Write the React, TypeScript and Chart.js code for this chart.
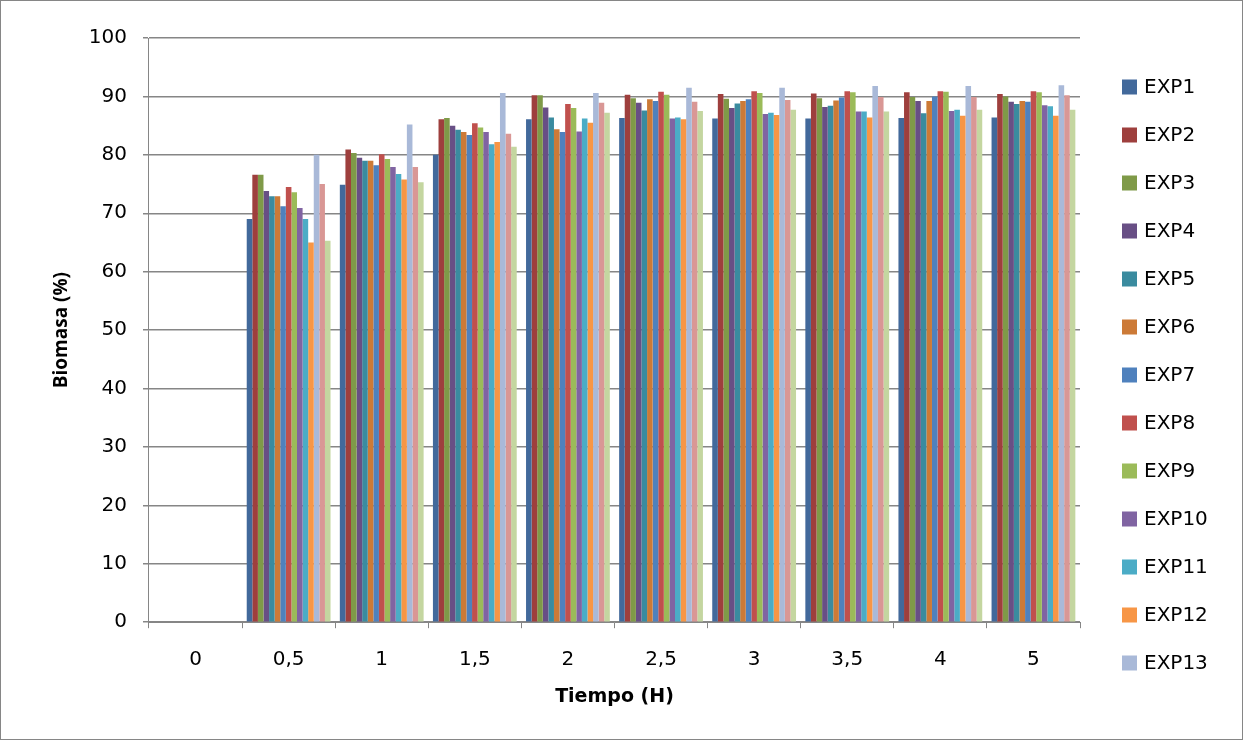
import React, { useEffect, useRef } from "react";
import { Chart, registerables } from "chart.js";

Chart.register(...registerables);

const categories = ["0", "0,5", "1", "1,5", "2", "2,5", "3", "3,5", "4", "5"];

const seriesNames = [
  "EXP1", "EXP2", "EXP3", "EXP4", "EXP5", "EXP6", "EXP7", "EXP8",
  "EXP9", "EXP10", "EXP11", "EXP12", "EXP13", "EXP14", "EXP15",
];

const exp1 = [0, 69.0, 74.9, 80.0, 86.1, 86.3, 86.2, 86.2, 86.3, 86.4];
const exp2 = [0, 76.6, 80.9, 86.1, 90.2, 90.3, 90.4, 90.5, 90.7, 90.4];
const exp3 = [0, 76.6, 80.3, 86.3, 90.2, 89.7, 89.6, 89.7, 89.9, 90.0];
const exp4 = [0, 73.8, 79.5, 85.0, 88.1, 88.9, 88.0, 88.2, 89.2, 89.1];
const exp5 = [0, 72.9, 79.0, 84.3, 86.4, 87.6, 88.8, 88.4, 87.1, 88.7];
const exp6 = [0, 72.9, 79.0, 83.9, 84.4, 89.5, 89.2, 89.3, 89.2, 89.2];
const exp7 = [0, 71.2, 78.2, 83.4, 83.9, 89.2, 89.5, 89.8, 90.0, 89.1];
const exp8 = [0, 74.5, 80.1, 85.4, 88.7, 90.8, 90.9, 90.9, 90.9, 90.9];
const exp9 = [0, 73.6, 79.3, 84.7, 88.0, 90.3, 90.6, 90.7, 90.8, 90.7];
const exp10 = [0, 70.9, 77.9, 83.9, 84.0, 86.2, 87.0, 87.4, 87.5, 88.5];
const exp11 = [0, 69.0, 76.7, 81.8, 86.2, 86.4, 87.2, 87.4, 87.7, 88.3];
const exp12 = [0, 65.0, 75.8, 82.2, 85.5, 86.1, 86.8, 86.4, 86.7, 86.7];
const exp13 = [0, 80.0, 85.2, 90.6, 90.6, 91.5, 91.5, 91.8, 91.8, 91.9];
const exp14 = [0, 75.0, 77.9, 83.6, 88.9, 89.1, 89.4, 89.9, 89.9, 90.2];
const exp15 = [0, 65.3, 75.3, 81.4, 87.2, 87.5, 87.7, 87.4, 87.7, 87.7];

const seriesValues = [
  exp1, exp2, exp3, exp4, exp5, exp6, exp7, exp8,
  exp9, exp10, exp11, exp12, exp13, exp14, exp15,
];

const seriesColors = [
  "#42699B", "#9E3F3D", "#7F9A48", "#684F85", "#3A8B9F", "#CC7A37", "#4F81BD",
  "#C0504D", "#9BBB59", "#8064A2", "#4BACC6", "#F79646", "#A9B9D8", "#D99795",
  "#C4D6A0",
];

const yTicks = [0, 10, 20, 30, 40, 50, 60, 70, 80, 90, 100];

// the reference legend only has room for the first 13 entries
const legendCount = 13;

const WIDE = "'DejaVu Sans', 'Liberation Sans', sans-serif";
const NARROW = "'Open Sans', 'Liberation Sans', sans-serif";

const sideLegend = {
  id: "sideLegend",
  afterDraw(chart: any) {
    const { ctx, chartArea, height } = chart;
    const rowGap = 48;
    const box = 15;
    const x0 = chartArea.right + 42;
    const yStart = height / 2 + 5 - ((legendCount - 1) / 2) * rowGap;
    ctx.save();
    ctx.font = `20px ${WIDE}`;
    ctx.textBaseline = "middle";
    ctx.textAlign = "left";
    for (let i = 0; i < legendCount; i++) {
      const y = yStart + i * rowGap;
      ctx.fillStyle = seriesColors[i];
      ctx.fillRect(x0, y - box / 2, box, box);
      ctx.fillStyle = "#000";
      ctx.fillText(seriesNames[i], x0 + box + 7, y + 1);
    }
    ctx.restore();
  },
};

export default function App() {
  const ref = useRef<HTMLCanvasElement | null>(null);

  useEffect(() => {
    document.body.style.margin = "0";
    if (!ref.current) return;
    const chart = new Chart(ref.current, {
      type: "bar",
      data: {
        labels: categories,
        datasets: seriesNames.map((name, i) => ({
          label: name,
          data: seriesValues[i],
          backgroundColor: seriesColors[i],
          borderWidth: 0,
          barPercentage: 1,
          categoryPercentage: 0.9,
        })),
      },
      plugins: [sideLegend],
      options: {
        animation: false,
        responsive: true,
        maintainAspectRatio: false,
        layout: { padding: { top: 37, right: 162, bottom: 31, left: 49 } },
        plugins: {
          tooltip: { enabled: false },
          legend: { display: false },
        },
        scales: {
          x: {
            grid: {
              display: true,
              drawOnChartArea: false,
              drawTicks: true,
              tickLength: 6,
              color: "#868686",
              offset: true,
            },
            border: { display: true, color: "#868686", width: 1 },
            ticks: { color: "#000", font: { family: WIDE, size: 20 }, padding: 20 },
            title: {
              display: true,
              text: "Tiempo (H)",
              color: "#000",
              font: { family: WIDE, size: 19, weight: "bold" },
              padding: { top: -7, bottom: 0 },
            },
          },
          y: {
            min: 0,
            max: 100,
            afterBuildTicks: (axis: any) => {
              axis.ticks = yTicks.map((v) => ({ value: v }));
            },
            grid: {
              color: "#868686",
              lineWidth: 1.5,
              drawTicks: true,
              tickLength: 6,
            },
            border: { display: true, color: "#868686", width: 1 },
            ticks: { color: "#000", font: { family: WIDE, size: 20 }, padding: 16 },
            title: {
              display: true,
              text: "Biomasa (%)",
              color: "#000",
              font: { family: NARROW, size: 19, weight: "bold" },
              padding: { top: 0, bottom: 0 },
            },
          },
        },
      },
    });
    return () => chart.destroy();
  }, []);

  return (
    <div
      style={{
        width: 1243,
        height: 740,
        border: "1px solid #868686",
        boxSizing: "border-box",
        position: "relative",
        background: "#fff",
      }}
    >
      <canvas ref={ref} />
    </div>
  );
}
